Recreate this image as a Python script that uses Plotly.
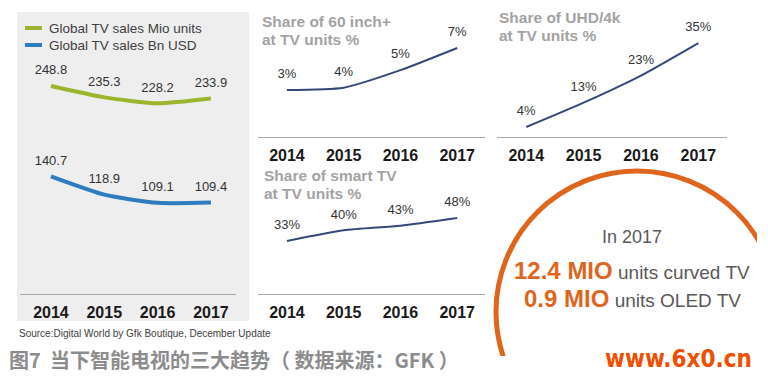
import plotly.graph_objects as go
import numpy as np

# ---------------- data ----------------
years = [2014, 2015, 2016, 2017]
year_labels = ["2014", "2015", "2016", "2017"]

series_names = ["Global TV sales Mio units", "Global TV sales Bn USD"]
tv_units_mio = [248.8, 235.3, 228.2, 233.9]
tv_sales_bn_usd = [140.7, 118.9, 109.1, 109.4]

share_60inch = [3.4, 3.6, 5.1, 7.0]   # labelled 3%, 4%, 5%, 7%
share_uhd = [4, 13, 23, 35]
share_smart = [33, 40, 43, 48]

panel_titles = {
    "60": ["Share of 60 inch+", "at TV units %"],
    "uhd": ["Share of UHD/4k", "at TV units %"],
    "smart": ["Share of smart TV", "at TV units %"],
}

source_text = "Source:Digital World by Gfk Boutique, December Update"
caption_text = "图7  当下智能电视的三大趋势（ 数据来源：GFK ）"
watermark_text = "www.6x0.cn"
highlight_intro = "In 2017"
highlight_rows = [("12.4 MIO", "units curved TV"), ("0.9 MIO", "units OLED TV")]

# ---------------- styling ----------------
W, H = 768, 384
GREEN = "#9BB52C"
BLUE = "#2E7BBF"
NAVY = "#34497A"
ORANGE = "#E0651C"
TITLE_GRAY = "#A3A3A3"
TEXT = "#333333"
FONT = "Liberation Sans, Arial, sans-serif"


def px(x):
    return x / W


def py(y):
    return 1 - y / H


fig = go.Figure()


def add_line(vals, color, width, xa, ya, fmt, lsize=13):
    fig.add_trace(go.Scatter(
        x=years, y=vals, mode="lines+markers+text",
        line=dict(color=color, width=width, shape="spline", smoothing=0.6),
        marker=dict(size=12, opacity=0),
        texttemplate=fmt, textposition="top center",
        textfont=dict(family=FONT, size=lsize, color=TEXT),
        xaxis=xa, yaxis=ya, showlegend=False, hoverinfo="skip", cliponaxis=False,
    ))


add_line(tv_units_mio, GREEN, 4, "x", "y", "%{y:.1f}")
add_line(tv_sales_bn_usd, BLUE, 4, "x", "y", "%{y:.1f}")
add_line(share_60inch, NAVY, 2, "x2", "y2", "%{y:.0f}%")
add_line(share_uhd, NAVY, 2, "x3", "y3", "%{y:.0f}%")
add_line(share_smart, NAVY, 2, "x4", "y4", "%{y:.0f}%")

xbase = dict(
    tickvals=years, ticktext=year_labels, showgrid=False, zeroline=False,
    showline=True, linecolor="#A8A8A8", linewidth=1,
    ticks="outside", ticklen=4, tickcolor="rgba(0,0,0,0)",
    tickfont=dict(family=FONT, size=16, color="#1A1A1A", weight="bold"),
)
ybase = dict(visible=False, showgrid=False, zeroline=False)

layout_axes = dict(
    xaxis=dict(xbase, domain=[px(20), px(236)], range=[2013.42, 2017.47], anchor="y"),
    yaxis=dict(ybase, domain=[py(294), py(60)], range=[0, 280], anchor="x"),
    xaxis2=dict(xbase, domain=[px(258), px(485)], range=[2013.49, 2017.49], anchor="y2"),
    yaxis2=dict(ybase, domain=[py(137), py(30)], range=[-0.63, 8.54], anchor="x2"),
    xaxis3=dict(xbase, domain=[px(497), px(727)], range=[2013.49, 2017.5], anchor="y3"),
    yaxis3=dict(ybase, domain=[py(137), py(20)], range=[0.31, 43.5], anchor="x3"),
    xaxis4=dict(xbase, domain=[px(258), px(485)], range=[2013.49, 2017.49], anchor="y4"),
    yaxis4=dict(ybase, domain=[py(294), py(190)], range=[-1.57, 66.3], anchor="x4"),
    # pixel overlay axis for decoration text / legend
    xaxis5=dict(visible=False, domain=[0, 1], range=[0, W], anchor="y5"),
    yaxis5=dict(visible=False, domain=[0, 1], range=[H, 0], anchor="x5"),
    # clipping window for the orange circle
    xaxis6=dict(visible=False, domain=[px(488), px(757)], range=[488, 757], anchor="y6"),
    yaxis6=dict(visible=False, domain=[py(356), py(160)], range=[356, 160], anchor="x6"),
)

shapes = [
    # grey panel
    dict(type="rect", xref="paper", yref="paper", x0=px(17), x1=px(249), y0=py(321), y1=py(12),
         fillcolor="#EEEEEE", line=dict(width=0), layer="below"),
    # legend swatches
    dict(type="line", xref="x5", yref="y5", x0=25, x1=42, y0=28, y1=28, line=dict(color=GREEN, width=4)),
    dict(type="line", xref="x5", yref="y5", x0=25, x1=42, y0=45, y1=45, line=dict(color=BLUE, width=4)),
    # orange circle
    dict(type="circle", xref="x6", yref="y6", x0=637 - 141, x1=637 + 141, y0=312 - 141, y1=312 + 141,
         line=dict(color=ORANGE, width=5), fillcolor="rgba(0,0,0,0)"),
]

annotations = []


def ann(x, y, text, size, color, anchor="left", weight="normal", family=FONT):
    annotations.append(dict(
        xref="x5", yref="y5", x=x, y=y, text=text, showarrow=False,
        xanchor=anchor, yanchor="middle",
        font=dict(family=family, size=size, color=color, weight=weight),
    ))


# legend text
ann(47, 28, series_names[0], 13.5, "#404040")
ann(47, 45, series_names[1], 13.5, "#404040")

# panel titles
for (key, x0, y0) in [("60", 260, 21), ("uhd", 497, 17), ("smart", 262, 175)]:
    for i, line in enumerate(panel_titles[key]):
        ann(x0, y0 + 18 * i, line, 15.5, TITLE_GRAY, weight="bold")

# highlight text in circle
ann(632, 237, highlight_intro, 18, "#595959", anchor="center")
for i, (big, small) in enumerate(highlight_rows):
    txt = (f"<b><span style='color:{ORANGE};font-size:24px'>{big}</span></b> "
           f"<span style='font-size:19px'>{small}</span>")
    ann(632, 270 + 28 * i, txt, 19, "#595959", anchor="center")

# source, caption, watermark
ann(17, 333, source_text, 10, "#404040")
ann(7, 359, caption_text, 20, "#8C8C8C", weight="bold",
    family="Noto Sans CJK SC, Noto Sans, sans-serif")
ann(678, 359, watermark_text, 24, "#F04E00", anchor="center", weight="bold",
    family="Liberation Sans Narrow, DejaVu Sans Condensed, Liberation Sans, sans-serif")

fig.update_layout(
    width=W, height=H, margin=dict(l=0, r=0, t=0, b=0),
    paper_bgcolor="white", plot_bgcolor="rgba(0,0,0,0)",
    shapes=shapes, annotations=annotations, showlegend=False,
    **layout_axes,
)

fig.write_html(
    "out.html",
    config={"displayModeBar": False},
    post_script="document.body.style.margin='0';document.body.style.overflow='hidden';",
)
